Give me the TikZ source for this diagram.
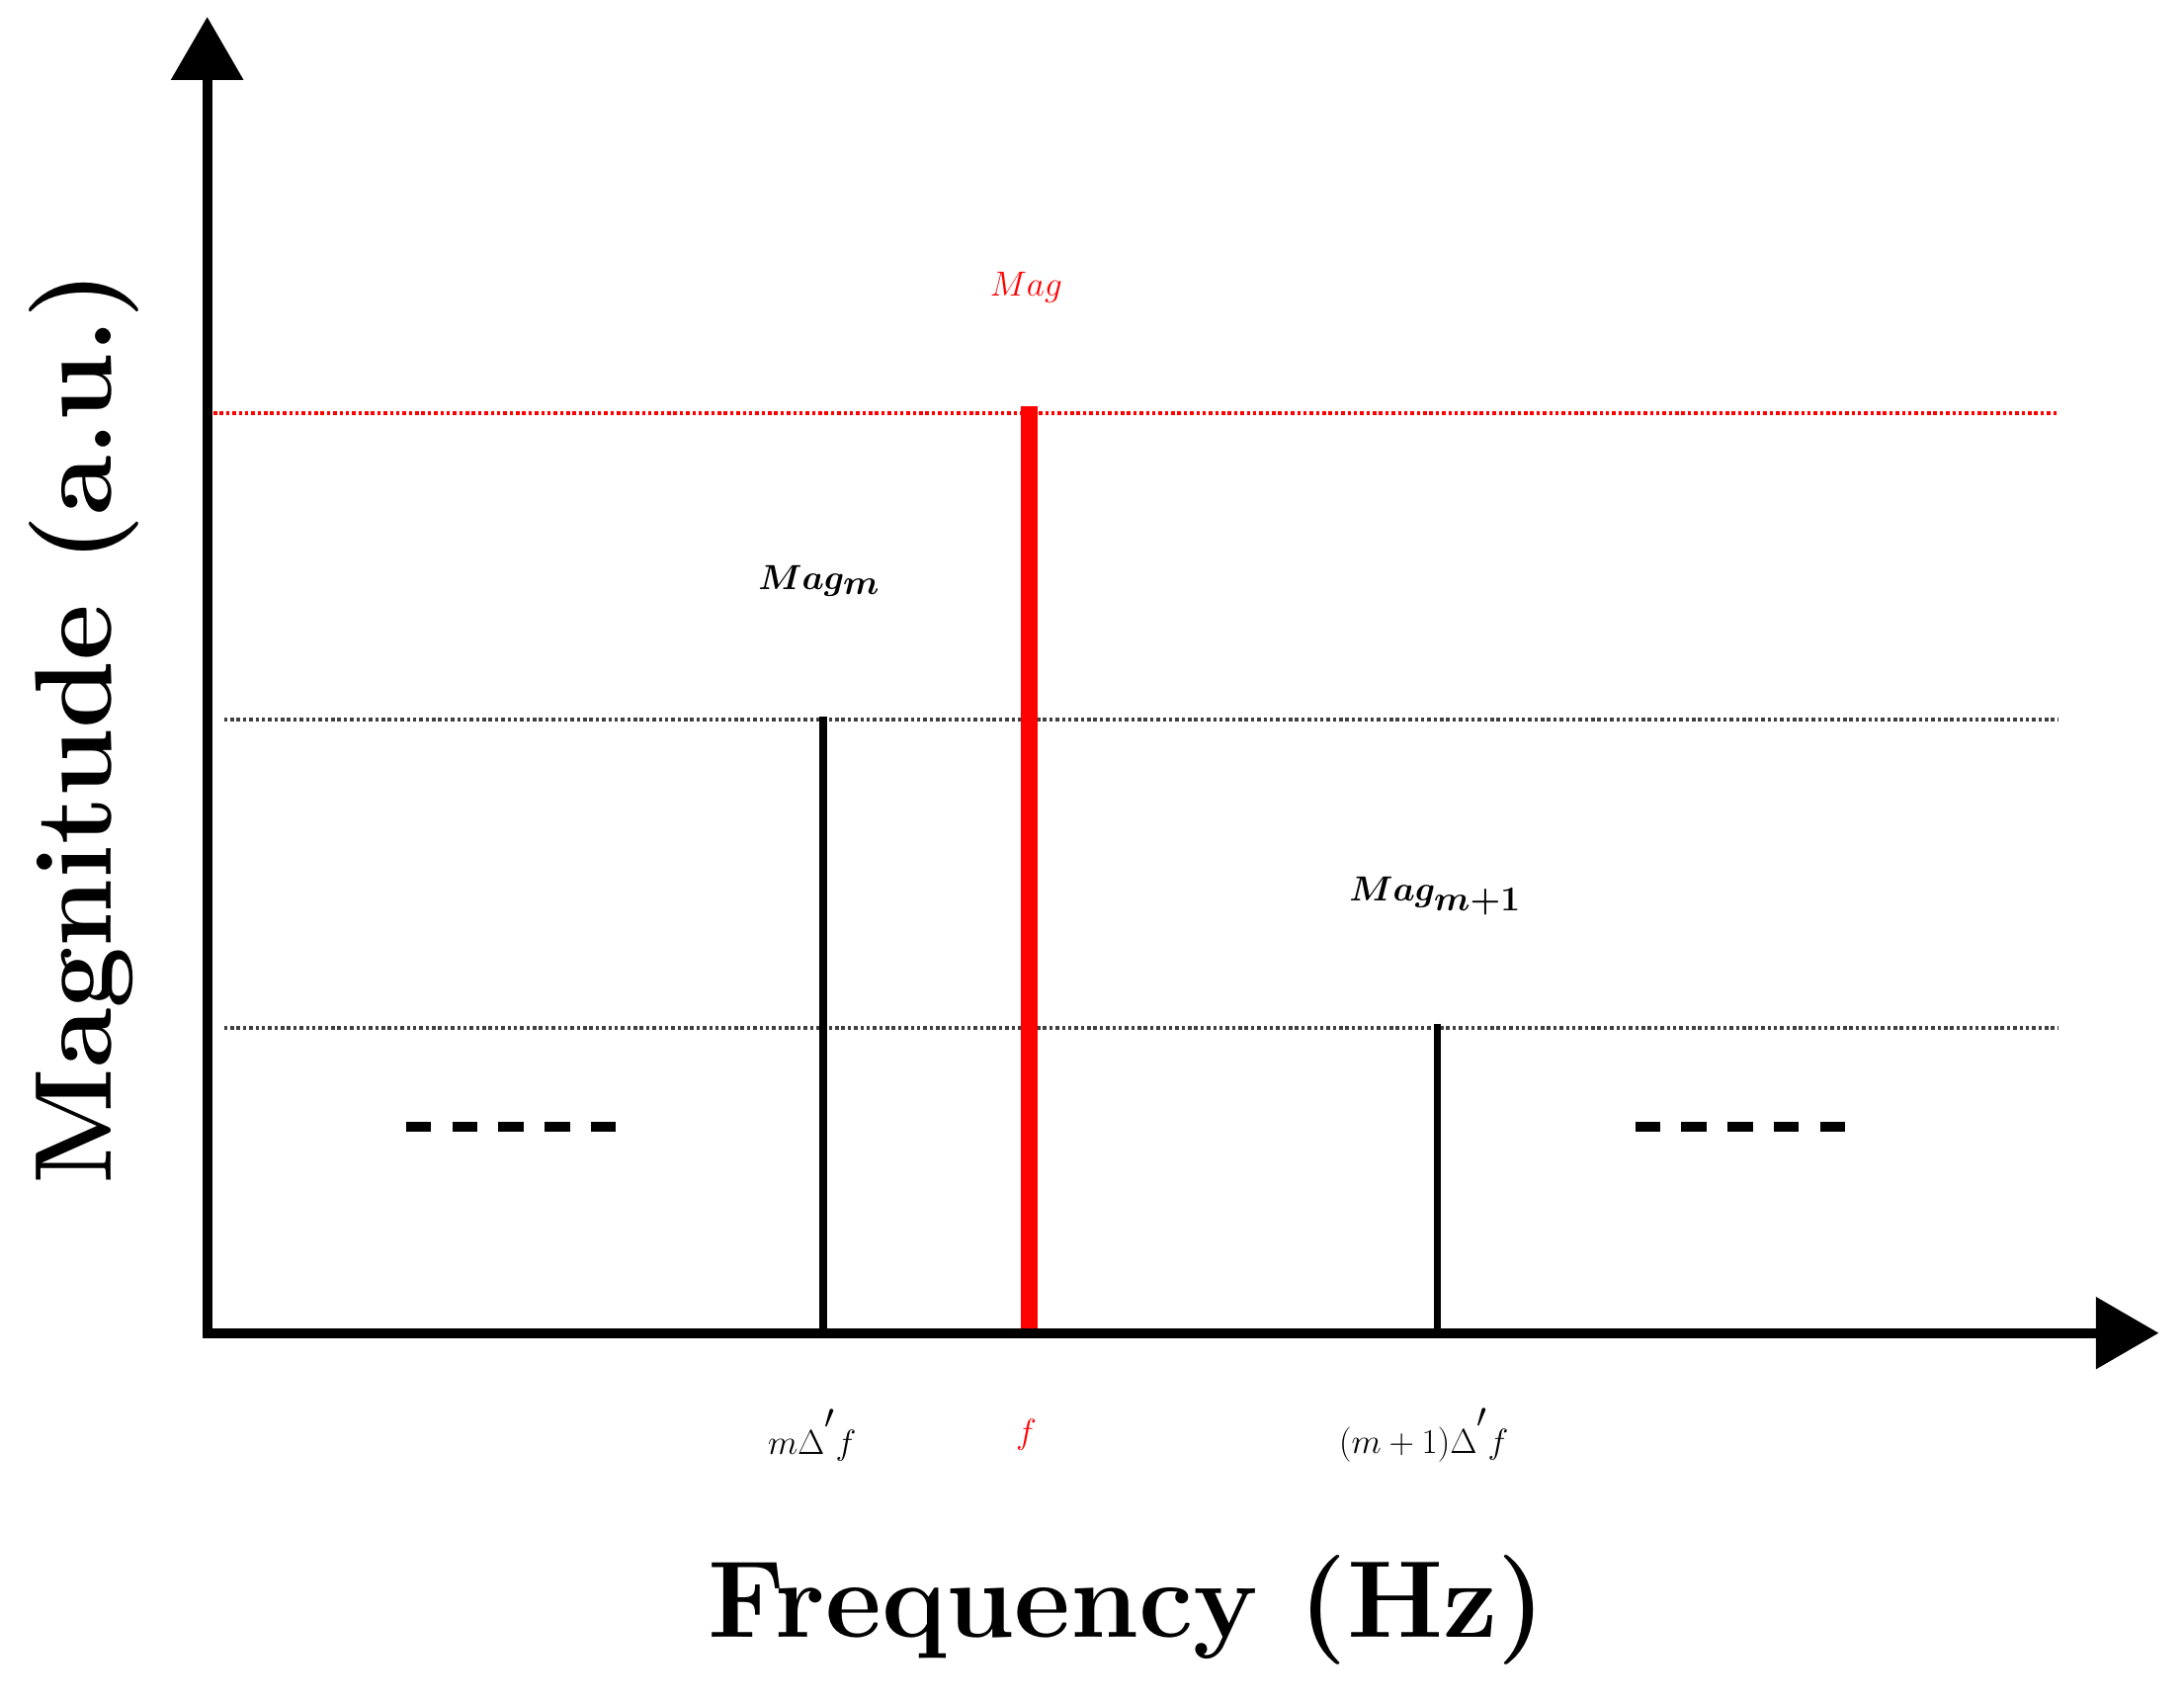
\documentclass[tikz,border=0pt]{standalone}
\usepackage{amsmath,bm}
\usetikzlibrary{arrows.meta}
\begin{document}
\begin{tikzpicture}[x=1pt,y=-1pt,
  axis/.style={line width=7pt,-{Triangle[length=45pt,width=50pt]}},
  guide/.style={line width=2.5pt,dotted,black!75},
  stem/.style={line width=5pt},
  dots/.style={line width=7pt,dash pattern=on 18pt off 15pt},
  lab/.style={inner sep=0pt,font=\fontsize{62}{70}\selectfont}]
\useasboundingbox (0,0) rectangle (1560,1216);
\coordinate (O) at (148,952);
\coordinate (Ytip) at (148,12);
\coordinate (Xtip) at (1542,952);
\coordinate (r1) at (148,295); \coordinate (r2) at (1470,295);
\coordinate (g1) at (160,514); \coordinate (g2) at (1470,514);
\coordinate (h1) at (160,734); \coordinate (h2) at (1470,734);
\draw[line width=2.5pt,dotted,red] (r1) -- (r2);
\draw[guide] (g1) -- (g2);
\draw[guide] (h1) -- (h2);
\coordinate (s1t) at (588,512); \coordinate (s1b) at (588,952);
\coordinate (s2t) at (1027,731); \coordinate (s2b) at (1027,952);
\coordinate (st) at (735,290); \coordinate (sb) at (735,956);
\draw[stem] (s1t) -- (s1b);
\draw[stem] (s2t) -- (s2b);
\draw[red,line width=12pt] (st) -- (sb);
\draw[axis] (O) -- (Ytip);
\draw[axis] ([xshift=-3.5pt]O) -- (Xtip);
\coordinate (d1) at (290,805); \coordinate (d2) at (450,805);
\coordinate (d3) at (1168,805); \coordinate (d4) at (1328,805);
\draw[dots] (d1) -- (d2);
\draw[dots] (d3) -- (d4);
\node[lab,text=red] (mag) at (733,205) {\fontsize{78}{80}\selectfont$Mag$};
\node[lab] (magm) at (585,415) {\fontsize{78}{80}\selectfont$\bm{Mag_{m}}$};
\node[lab] (magm1) at (1025,640) {\fontsize{78}{80}\selectfont$\bm{Mag_{m+1}}$};
\node[lab] (l1) at (580,1025) {$m\Delta^{'}f$};
\node[lab,text=red] (l2) at (733,1025) {$f$};
\node[lab] (l3) at (1017,1025) {$(m+1)\Delta^{'}f$};
\node[lab,font=\fontsize{78}{80}\selectfont\bfseries] (xl) at (805,1150) {Frequency (Hz)};
\node[lab,font=\fontsize{78}{80}\selectfont\bfseries,rotate=90] (yl) at (60,520) {Magnitude (a.u.)};
\end{tikzpicture}
\end{document}
